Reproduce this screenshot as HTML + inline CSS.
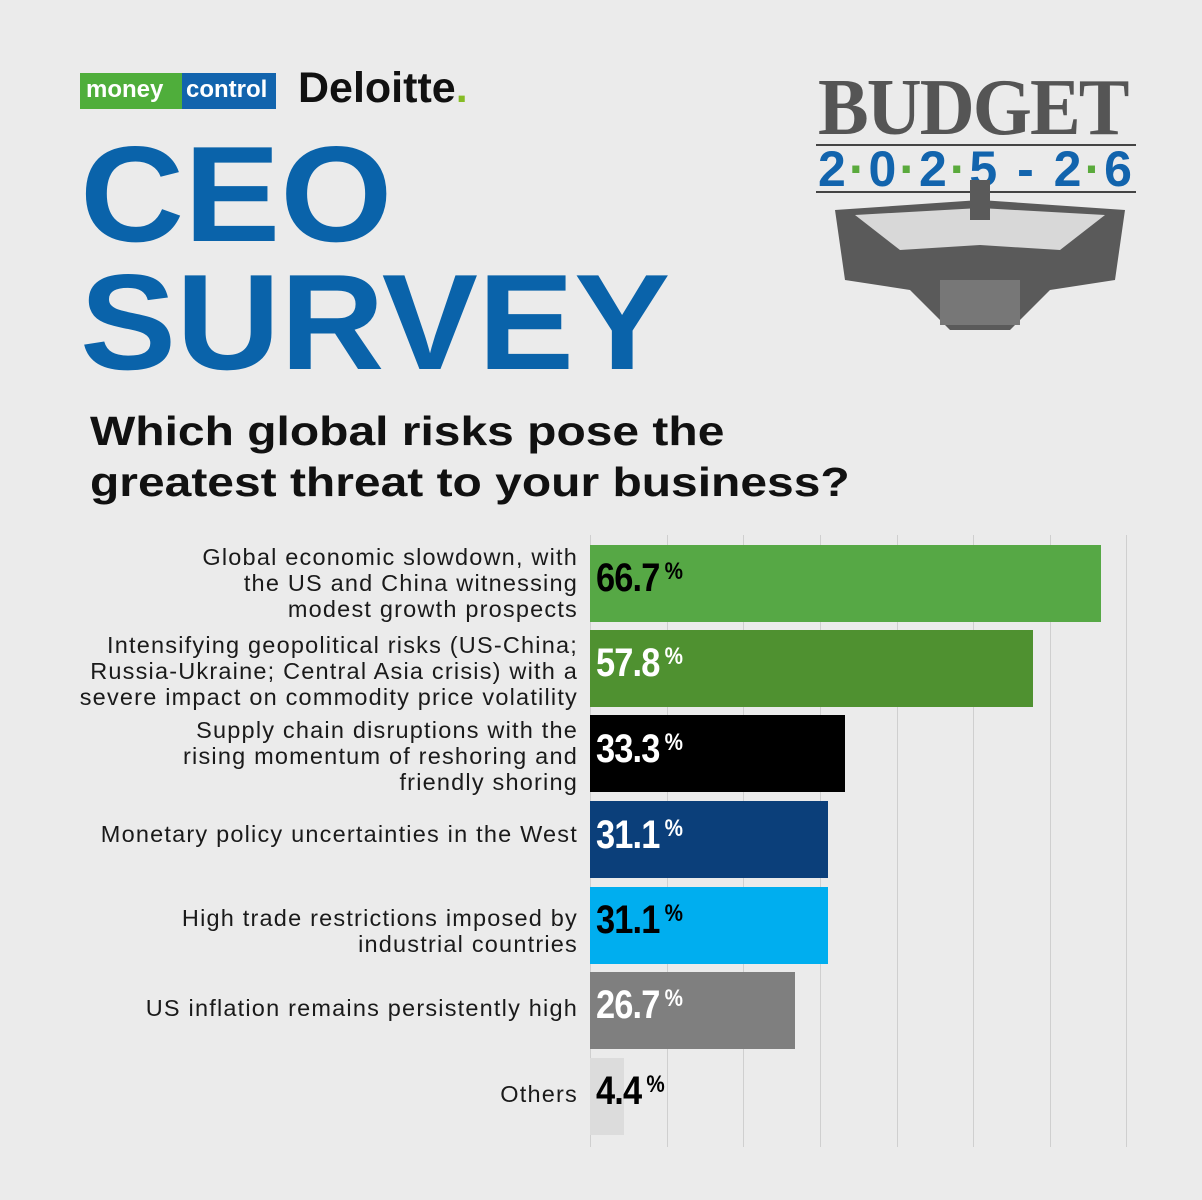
<!DOCTYPE html>
<html><head><meta charset="utf-8"><style>
*{margin:0;padding:0;box-sizing:border-box}
body{width:1202px;height:1200px;background:#ebebeb;position:relative;overflow:hidden;font-family:"Liberation Sans",sans-serif}
.a{position:absolute}
.lbl{position:absolute;right:624px;text-align:right;font-size:23.5px;line-height:26px;color:#1a1a1a;letter-spacing:1.2px;white-space:nowrap}
.bar{position:absolute;left:590px;height:77px}
.val{position:absolute;left:596px;font-weight:bold;font-size:40px;letter-spacing:-1px;transform:scaleX(0.86);transform-origin:left;white-space:nowrap}
.val sup{font-size:24px;vertical-align:12px;margin-left:6px;letter-spacing:0}
.g{position:absolute;top:535px;height:612px;width:1px;background:#cfcfcf}
</style></head><body>
<div class="a" style="left:80px;top:73px;width:104px;height:36px;background:#4fae3b"></div>
<div class="a" style="left:182px;top:73px;width:94px;height:36px;background:#1264ad"></div>
<div class="a" style="left:86px;top:75px;font-size:24px;font-weight:bold;color:#fff;line-height:30px">money</div>
<div class="a" style="left:186px;top:75px;font-size:24px;font-weight:bold;color:#fff;line-height:30px">control</div>
<div class="a" style="left:298px;top:64px;font-size:43px;font-weight:bold;color:#111;letter-spacing:0px">Deloitte<span style="color:#86bc25">.</span></div>
<div class="a" style="left:80px;top:130px;font-size:136px;font-weight:bold;color:#0a63aa;line-height:128px;transform:scaleX(1.06);transform-origin:left">CEO<br>SURVEY</div>
<div class="a" style="left:90px;top:406px;font-size:41px;font-weight:bold;color:#111;line-height:51px;transform:scaleX(1.17);transform-origin:left;white-space:nowrap">Which global risks pose the<br>greatest threat to your business?</div>
<div class="a" style="left:818px;top:70px;font-family:'Liberation Serif',serif;font-weight:bold;font-size:80px;color:#555;line-height:76px;transform:scaleX(0.95);transform-origin:left;letter-spacing:-2px">BUDGET</div>
<div class="a" style="left:816px;top:144px;width:320px;height:2px;background:#444"></div>
<div class="a" style="left:818px;top:140px;font-size:50px;font-weight:bold;color:#1264ad;letter-spacing:3px;white-space:nowrap">2<span style="color:#5aaa3c">·</span>0<span style="color:#5aaa3c">·</span>2<span style="color:#5aaa3c">·</span>5 - 2<span style="color:#5aaa3c">·</span>6</div>
<div class="a" style="left:816px;top:191px;width:320px;height:2px;background:#444"></div>
<svg class="a" style="left:830px;top:180px" width="300" height="160">
<polygon points="5,30 150,20 295,30 285,100 220,110 180,150 120,150 80,110 15,100" fill="#5a5a5a"/>
<polygon points="25,35 150,28 275,35 230,70 150,65 70,70" fill="#d8d8d8"/>
<rect x="140" y="0" width="20" height="40" fill="#5a5a5a"/>
<rect x="110" y="100" width="80" height="45" fill="#777"/>
</svg>
<div class="g" style="left:590px"></div><div class="g" style="left:667px"></div><div class="g" style="left:743px"></div><div class="g" style="left:820px"></div><div class="g" style="left:897px"></div><div class="g" style="left:973px"></div><div class="g" style="left:1050px"></div><div class="g" style="left:1126px"></div>
<div class="bar" style="top:545px;width:511px;background:#56a845"></div>
<div class="bar" style="top:630px;width:443px;background:#4f9130"></div>
<div class="bar" style="top:715px;width:255px;background:#000"></div>
<div class="bar" style="top:801px;width:238px;background:#0b3f7a"></div>
<div class="bar" style="top:887px;width:238px;background:#00aeef"></div>
<div class="bar" style="top:972px;width:205px;background:#7f7f7f"></div>
<div class="bar" style="top:1058px;width:34px;background:#dcdcdc"></div>
<div class="val" style="top:556px;color:#000">66.7<sup>%</sup></div>
<div class="val" style="top:641px;color:#fff">57.8<sup>%</sup></div>
<div class="val" style="top:727px;color:#fff">33.3<sup>%</sup></div>
<div class="val" style="top:813px;color:#fff">31.1<sup>%</sup></div>
<div class="val" style="top:898px;color:#000">31.1<sup>%</sup></div>
<div class="val" style="top:983px;color:#fff">26.7<sup>%</sup></div>
<div class="val" style="top:1069px;color:#000">4.4<sup>%</sup></div>
<div class="lbl" style="top:544px">Global economic slowdown, with<br>the US and China witnessing<br>modest growth prospects</div>
<div class="lbl" style="top:632px">Intensifying geopolitical risks (US-China;<br>Russia-Ukraine; Central Asia crisis) with a<br>severe impact on commodity price volatility</div>
<div class="lbl" style="top:717px">Supply chain disruptions with the<br>rising momentum of reshoring and<br>friendly shoring</div>
<div class="lbl" style="top:821px">Monetary policy uncertainties in the West</div>
<div class="lbl" style="top:905px">High trade restrictions imposed by<br>industrial countries</div>
<div class="lbl" style="top:995px">US inflation remains persistently high</div>
<div class="lbl" style="top:1081px">Others</div>
</body></html>
